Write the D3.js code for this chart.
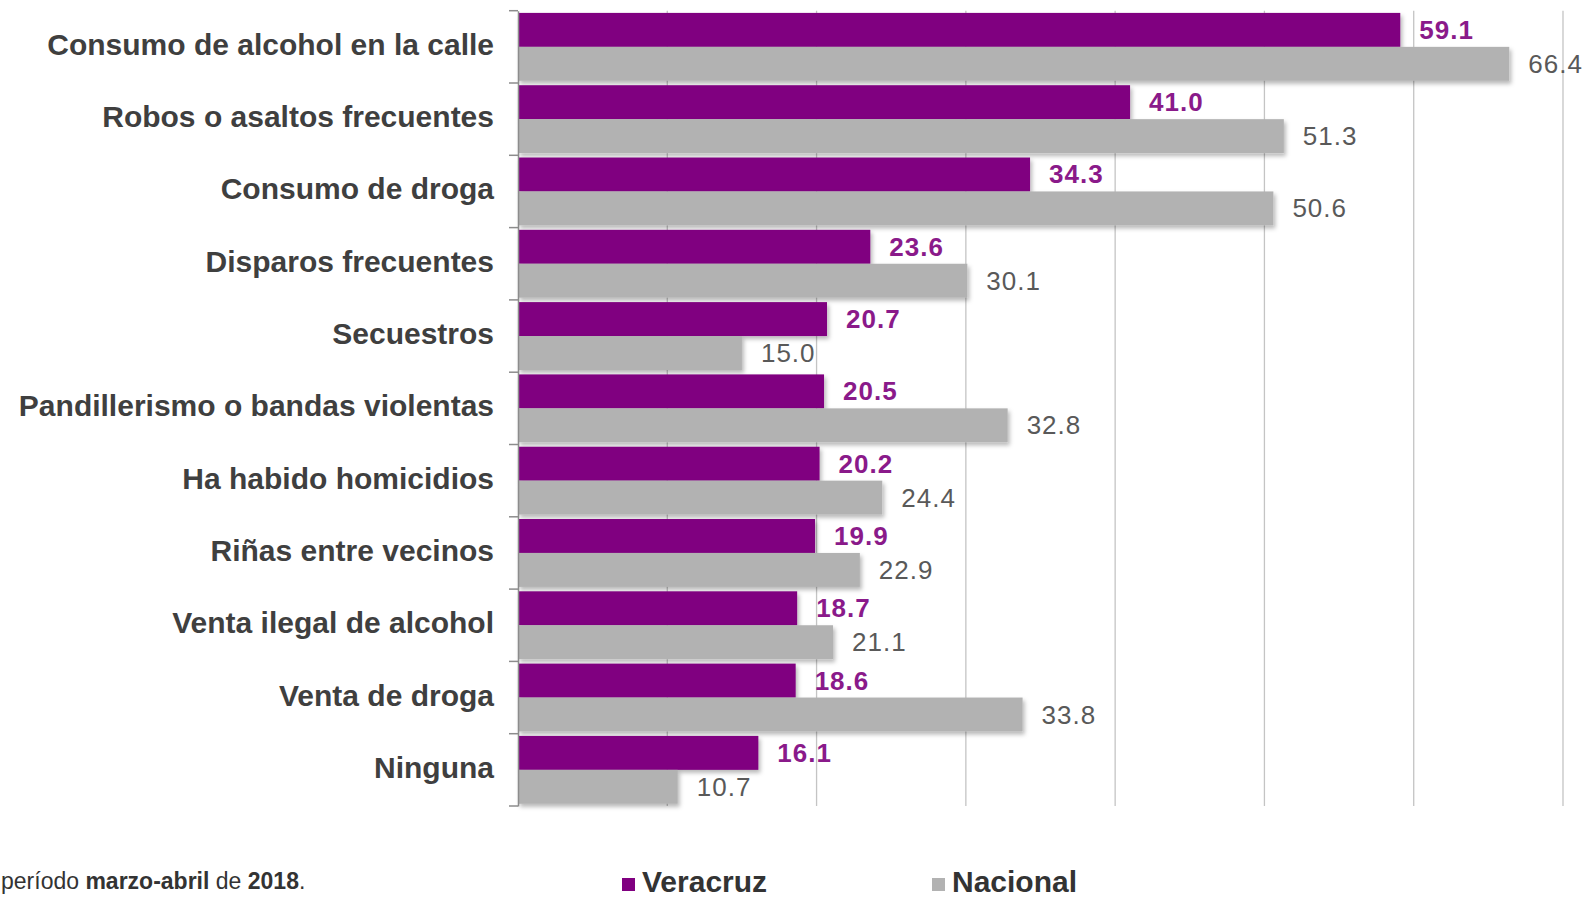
<!DOCTYPE html>
<html>
<head>
<meta charset="utf-8">
<script src="https://cdn.jsdelivr.net/npm/d3@7"></script>
<style>
  html, body { margin: 0; padding: 0; background: #fff; }
  svg { display: block; font-family: "Liberation Sans", Arial, sans-serif; }
</style>
</head>
<body>
<svg id="chart" width="1590" height="899"></svg>
<script>
const categories = [
  "Consumo de alcohol en la calle",
  "Robos o asaltos frecuentes",
  "Consumo de droga",
  "Disparos frecuentes",
  "Secuestros",
  "Pandillerismo o bandas violentas",
  "Ha habido homicidios",
  "Riñas entre vecinos",
  "Venta ilegal de alcohol",
  "Venta de droga",
  "Ninguna"
];
const veracruz = [59.1, 41.0, 34.3, 23.6, 20.7, 20.5, 20.2, 19.9, 18.7, 18.6, 16.1];
const nacional = [66.4, 51.3, 50.6, 30.1, 15.0, 32.8, 24.4, 22.9, 21.1, 33.8, 10.7];
const seriesNames = ["Veracruz", "Nacional"];
const gridTicks = [10, 20, 30, 40, 50, 60, 70];

(function () {
const colors = { Veracruz: "#800080", Nacional: "#b2b2b2" };
const labelColors = { Veracruz: "#8a1a8a", Nacional: "#595959" };

const svg = d3.select("#chart");
const mLeft = 518, mRight = 1563, mTop = 10.7, mBottom = 806;

const x = d3.scaleLinear().domain([0, 70]).range([mLeft, mRight]);
const y = d3.scaleBand().domain(categories).range([mTop, mBottom]).paddingInner(0).paddingOuter(0);
const ySub = d3.scaleBand().domain(seriesNames).range([0, y.bandwidth()]).paddingOuter(0.065).paddingInner(0);

const defs = svg.append("defs");
const f = defs.append("filter").attr("id", "shadow").attr("x", "-5%").attr("y", "-20%").attr("width", "110%").attr("height", "160%");
f.append("feDropShadow").attr("dx", 2).attr("dy", 3).attr("stdDeviation", 2).attr("flood-color", "#000").attr("flood-opacity", 0.28);

// gridlines
svg.append("g").selectAll("line").data(gridTicks).join("line")
  .attr("x1", d => x(d)).attr("x2", d => x(d))
  .attr("y1", mTop).attr("y2", mBottom)
  .attr("stroke", "#c4c4c4").attr("stroke-width", 1.3);

const rows = categories.map((c, i) => ({ cat: c, values: [
  { s: "Veracruz", v: veracruz[i] },
  { s: "Nacional", v: nacional[i] }
]}));

const g = svg.append("g").selectAll("g").data(rows).join("g")
  .attr("transform", d => `translate(0,${y(d.cat)})`);

g.selectAll("rect").data(d => d.values).join("rect")
  .attr("x", x(0))
  .attr("y", d => ySub(d.s))
  .attr("width", d => x(d.v) - x(0))
  .attr("height", ySub.bandwidth())
  .attr("fill", d => colors[d.s])
  .attr("filter", "url(#shadow)");

g.selectAll("text.val").data(d => d.values).join("text")
  .attr("class", "val")
  .attr("x", d => x(d.v) + 19)
  .attr("y", d => ySub(d.s) + ySub.bandwidth() / 2 + 9)
  .attr("fill", d => labelColors[d.s])
  .attr("font-size", 26)
  .attr("letter-spacing", 1)
  .attr("font-weight", d => d.s === "Veracruz" ? "bold" : "normal")
  .text(d => d.v.toFixed(1));

// y axis
const yAxis = d3.axisLeft(y).tickSize(0).tickFormat("");
const ax = svg.append("g").attr("transform", `translate(${mLeft},0)`).call(yAxis);
ax.select(".domain").attr("stroke", "#8c8c8c").attr("stroke-width", 1.5);
const bounds = categories.map(c => y(c)).concat([mBottom]);
svg.append("g").selectAll("line").data(bounds).join("line")
  .attr("x1", mLeft - 9).attr("x2", mLeft)
  .attr("y1", d => d).attr("y2", d => d)
  .attr("stroke", "#8c8c8c").attr("stroke-width", 1.5);

// category labels
svg.append("g").selectAll("text").data(categories).join("text")
  .attr("x", 494)
  .attr("y", d => y(d) + y.bandwidth() / 2 + 8)
  .attr("text-anchor", "end")
  .attr("font-size", 30)
  .attr("font-weight", "bold")
  .attr("fill", "#3f3f3f")
  .text(d => d);

// legend
const legendX = { Veracruz: 622, Nacional: 932 };
const lg = svg.append("g").selectAll("g").data(seriesNames).join("g")
  .attr("transform", d => `translate(${legendX[d]},0)`);
lg.append("rect").attr("x", 0).attr("y", 878).attr("width", 13).attr("height", 13).attr("fill", d => colors[d]);
lg.append("text").attr("x", 20).attr("y", 892).attr("font-size", 30).attr("font-weight", "bold").attr("fill", "#333").text(d => d);

// footnote
const fn = svg.append("text").attr("x", 1).attr("y", 889).attr("text-anchor", "start").attr("font-size", 23).attr("fill", "#333");
fn.append("tspan").text("período ");
fn.append("tspan").attr("font-weight", "bold").text("marzo-abril");
fn.append("tspan").text(" de ");
fn.append("tspan").attr("font-weight", "bold").text("2018");
fn.append("tspan").text(".");
})();
</script>
</body>
</html>
